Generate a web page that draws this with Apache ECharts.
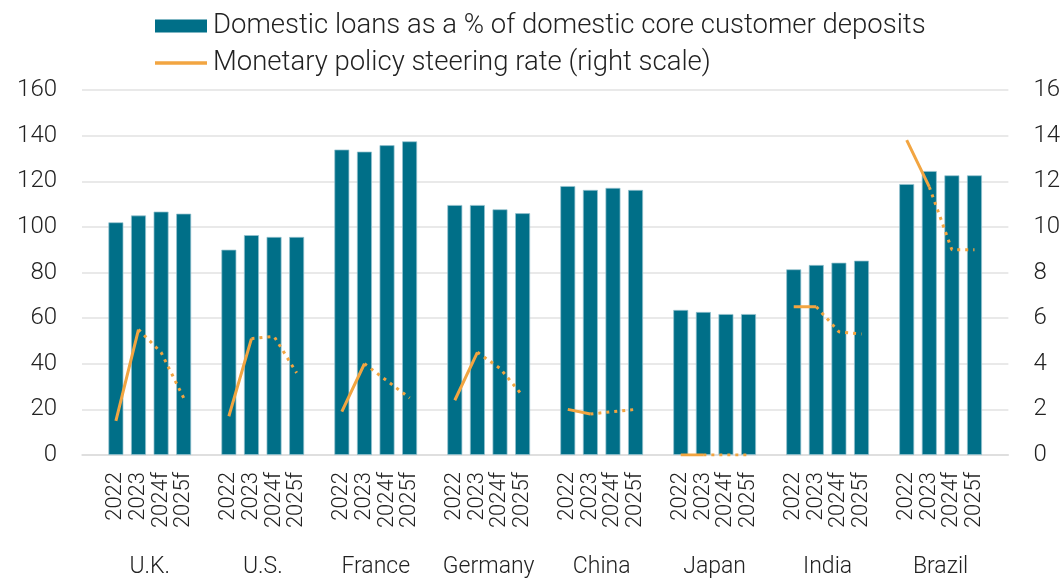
<!DOCTYPE html>
<html>
<head>
<meta charset="utf-8">
<script src="https://cdn.jsdelivr.net/npm/echarts@6/dist/echarts.min.js"></script>
<style>html,body{margin:0;padding:0;background:#fff}#c{width:1063px;height:580px}</style>
</head>
<body>
<div id="c"></div>
<script>
var countries = ['U.K.', 'U.S.', 'France', 'Germany', 'China', 'Japan', 'India', 'Brazil'];
var years = ['2022', '2023', '2024f', '2025f'];

// Domestic loans as a % of domestic core customer deposits (left scale)
var loans2022  = [102.0,  90.0, 133.9, 109.6, 117.9, 63.6, 81.4, 118.8];
var loans2023  = [105.0,  96.4, 133.0, 109.6, 116.2, 62.7, 83.3, 124.5];
var loans2024f = [106.7,  95.6, 135.8, 107.7, 117.1, 61.8, 84.3, 122.6];
var loans2025f = [105.8,  95.6, 137.5, 106.0, 116.2, 61.8, 85.2, 122.6];

// Monetary policy steering rate (right scale)
var rate2022  = [1.5, 1.7, 1.9, 2.4, 2.0, 0.0, 6.5, 13.8];
var rate2023  = [5.5, 5.1, 4.0, 4.5, 1.8, 0.0, 6.5, 11.75];
var rate2024f = [4.5, 5.2, 3.25, 3.8, 1.9, 0.0, 5.4, 9.0];
var rate2025f = [2.5, 3.6, 2.5, 2.6, 2.0, 0.0, 5.3, 9.0];

var leftTicks = {min: 0, max: 160, interval: 20};
var rightTicks = {min: 0, max: 16, interval: 2};

// Build slot layout: gap, 4 years, gap, 4 years, ..., gap
var yearSlots = [], countrySlots = [], barData = [], solidData = [], dotData = [];
var loansByYear = [loans2022, loans2023, loans2024f, loans2025f];
var ratesByYear = [rate2022, rate2023, rate2024f, rate2025f];
function pushGap() { yearSlots.push(''); countrySlots.push(''); barData.push(null); solidData.push(null); dotData.push(null); }
pushGap();
countries.forEach(function (c, ci) {
  years.forEach(function (y, yi) {
    yearSlots.push(y);
    countrySlots.push(yi === 1 ? c : '');
    barData.push(loansByYear[yi][ci]);
    solidData.push(yi <= 1 ? ratesByYear[yi][ci] : null);
    dotData.push(yi >= 1 ? ratesByYear[yi][ci] : null);
  });
  pushGap();
});

var FONT = 'Roboto, "Liberation Sans", sans-serif';
var W = 300;
var TXT = '#222';
var chart = echarts.init(document.getElementById('c'), null, {renderer: 'canvas'});
chart.setOption({
  animation: false,
  textStyle: {fontFamily: FONT, color: TXT, fontWeight: W},
  legend: {
    orient: 'vertical', left: 150, top: 7, itemWidth: 52, itemHeight: 13, itemGap: 9,
    textStyle: {fontSize: 27.5, color: TXT, fontFamily: FONT, fontWeight: W, lineHeight: 27, padding: [0, 0, 0, 1]},
    data: [
      {name: 'Domestic loans as a % of domestic core customer deposits', icon: 'rect', itemStyle: {borderWidth: 0, color: '#006F88'}},
      {name: 'Monetary policy steering rate (right scale)', icon: 'path://M0,0H52V3.5H0Z'}
    ]
  },
  grid: {left: 82, right: 53, top: 90, bottom: 125},
  xAxis: [{
    type: 'category', data: yearSlots, boundaryGap: true,
    axisLine: {lineStyle: {color: '#dcdcdc', width: 1.5}}, axisTick: {show: false},
    axisLabel: {interval: 0, rotate: 90, margin: 17, fontSize: 22, color: TXT, fontFamily: FONT, fontWeight: W}
  }, {
    type: 'category', data: countrySlots, position: 'bottom', boundaryGap: true,
    axisLine: {show: false}, axisTick: {show: false},
    axisLabel: {interval: 0, margin: 101, fontSize: 23, color: TXT, fontFamily: FONT, fontWeight: W, padding: [0, 0, 0, 22.6]}
  }],
  yAxis: [{
    type: 'value', min: leftTicks.min, max: leftTicks.max, interval: leftTicks.interval,
    axisLine: {show: false}, axisTick: {show: false},
    axisLabel: {fontSize: 24, margin: 25, color: TXT, fontFamily: FONT, fontWeight: W},
    splitLine: {lineStyle: {color: '#e2e2e2', width: 1.5}}
  }, {
    type: 'value', position: 'right', min: rightTicks.min, max: rightTicks.max, interval: rightTicks.interval,
    axisLine: {show: false}, axisTick: {show: false},
    axisLabel: {fontSize: 24, margin: 25, color: TXT, fontFamily: FONT, fontWeight: W, align: 'left'},
    splitLine: {show: false}
  }],
  series: [{
    name: 'Domestic loans as a % of domestic core customer deposits',
    type: 'bar', data: barData, barWidth: 15, xAxisIndex: 0, yAxisIndex: 0,
    itemStyle: {color: '#006F88', borderColor: 'rgba(150,195,208,0.9)', borderWidth: 0.8}
  }, {
    name: 'Monetary policy steering rate (right scale)',
    type: 'line', data: solidData, xAxisIndex: 0, yAxisIndex: 1, symbol: 'none', connectNulls: false, z: 5,
    itemStyle: {color: '#F2A541'},
    lineStyle: {color: '#F2A541', width: 3, cap: 'butt'}
  }, {
    name: 'rate forecast',
    type: 'line', data: dotData, xAxisIndex: 0, yAxisIndex: 1, symbol: 'none', connectNulls: false, z: 5,
    itemStyle: {color: '#F2A541'},
    lineStyle: {color: '#F2A541', width: 3, type: [3, 5], cap: 'butt'}
  }]
});
</script>
</body>
</html>
